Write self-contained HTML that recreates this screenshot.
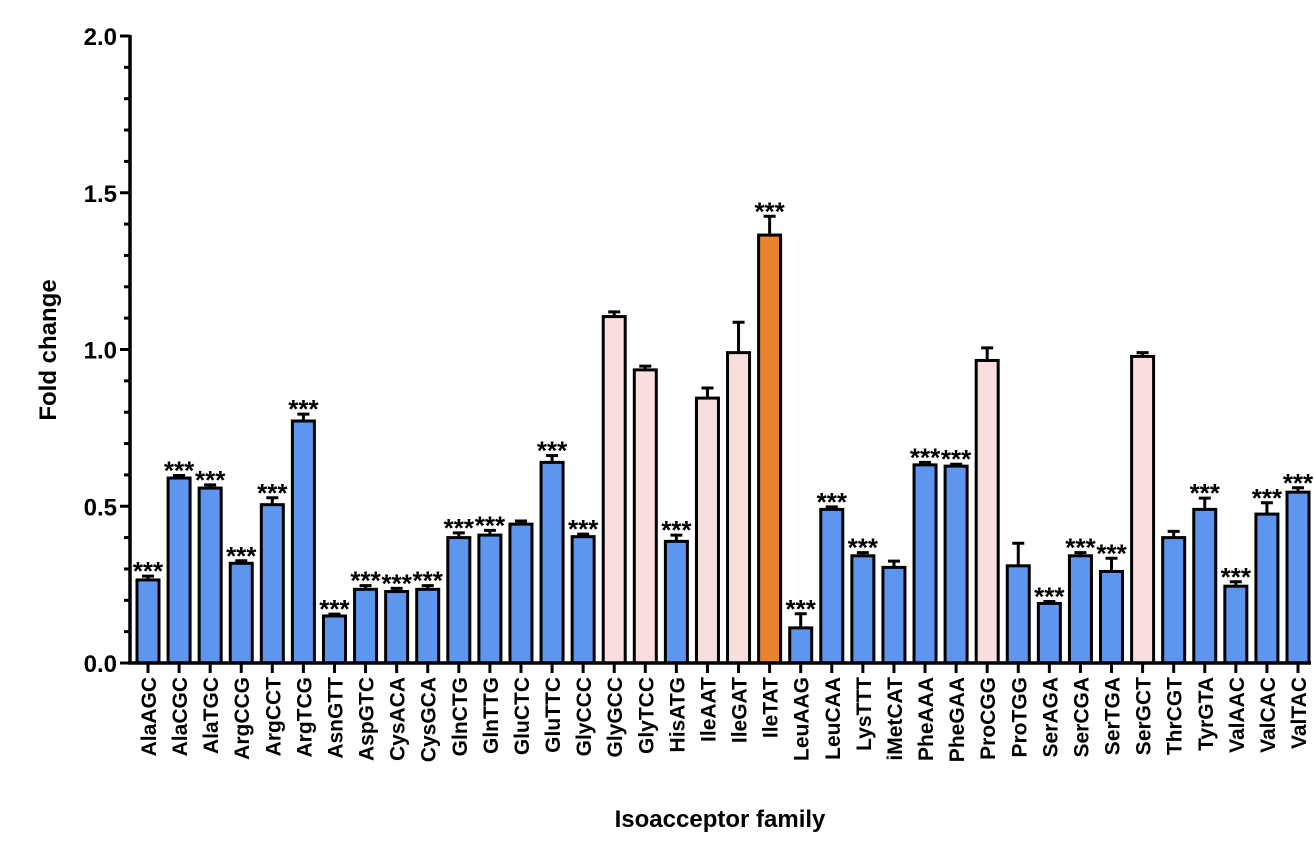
<!DOCTYPE html>
<html><head><meta charset="utf-8"><style>
html,body{margin:0;padding:0;background:#fff;}
svg{display:block;font-family:"Liberation Sans",Arial,sans-serif;font-weight:bold;}
</style></head><body>
<svg id="chart" width="1314" height="846" viewBox="0 0 1314 846" xmlns="http://www.w3.org/2000/svg"></svg>
<script>
const categories=["AlaAGC","AlaCGC","AlaTGC","ArgCCG","ArgCCT","ArgTCG","AsnGTT","AspGTC","CysACA","CysGCA","GlnCTG","GlnTTG","GluCTC","GluTTC","GlyCCC","GlyGCC","GlyTCC","HisATG","IleAAT","IleGAT","IleTAT","LeuAAG","LeuCAA","LysTTT","iMetCAT","PheAAA","PheGAA","ProCGG","ProTGG","SerAGA","SerCGA","SerTGA","SerGCT","ThrCGT","TyrGTA","ValAAC","ValCAC","ValTAC"];
const values=[0.265,0.59,0.558,0.318,0.505,0.772,0.15,0.235,0.228,0.235,0.4,0.408,0.443,0.64,0.403,1.105,0.935,0.388,0.845,0.99,1.365,0.112,0.49,0.342,0.305,0.632,0.628,0.965,0.31,0.19,0.342,0.292,0.978,0.4,0.49,0.245,0.475,0.545];
const errors=[0.012,0.008,0.01,0.008,0.022,0.022,0.006,0.012,0.01,0.012,0.015,0.015,0.01,0.022,0.008,0.015,0.012,0.02,0.032,0.097,0.06,0.045,0.008,0.01,0.02,0.008,0.006,0.04,0.072,0.006,0.01,0.042,0.012,0.02,0.036,0.014,0.036,0.014];
const groups=["b","b","b","b","b","b","b","b","b","b","b","b","b","b","b","p","p","b","p","p","o","b","b","b","b","b","b","p","b","b","b","b","p","b","b","b","b","b"];
const stars=[1,1,1,1,1,1,1,1,1,1,1,1,0,1,1,0,0,1,0,0,1,1,1,1,0,1,1,0,0,1,1,1,0,0,1,1,1,1];
const yTicks=[0,0.5,1.0,1.5,2.0];
const yTickLabels=["0.0","0.5","1.0","1.5","2.0"];
const colors={b:"#5d95ef",p:"#f9dede",o:"#e8842f"};
const svg=document.getElementById('chart');
const NS="http://www.w3.org/2000/svg";
const y0=663,yTop=36,ymax=2.0;
function yScale(v){return y0-(v/ymax)*(y0-yTop);}
const x0=148,step=(1298-148)/(categories.length-1);
function xScale(i){return x0+i*step;}
function mk(tag,attrs,parent){const e=document.createElementNS(NS,tag);for(const k in attrs)e.setAttribute(k,attrs[k]);(parent||svg).appendChild(e);return e;}
const bw=22;
categories.forEach((c,i)=>{
  const cx=xScale(i),v=values[i],top=yScale(v),et=yScale(v+errors[i]);
  const er=mk('path',{d:`M${cx} ${top} V${et} M${cx-6} ${et} H${cx+6}`,stroke:'#000','stroke-width':3,fill:'none'});
  
  
  const r=mk('rect',{x:cx-bw/2,y:top,width:bw,height:y0-top,fill:colors[groups[i]],stroke:'#000','stroke-width':3});
  
  
  if(stars[i]){
    const s=mk('text',{x:cx,y:et+4,'text-anchor':'middle','font-size':26,fill:'#000'});
    s.textContent='***';
    
    
  }
  mk('line',{x1:cx,x2:cx,y1:y0,y2:y0+10,stroke:'#000','stroke-width':3});
  const t=mk('text',{x:0,y:0,transform:`translate(${cx+8},${y0+14}) rotate(-90)`,'text-anchor':'end','font-size':21,fill:'#000'});
  t.textContent=c;
  
  
});
const ax=mk('path',{d:`M130 ${yTop-1} V${y0} H1311`,stroke:'#000','stroke-width':3.5,fill:'none'});


for(let k=0;k<=20;k++){
  const v=k*0.1,yy=yScale(v),major=k%5===0;
  mk('line',{x1:major?120:124,x2:130,y1:yy,y2:yy,stroke:'#000','stroke-width':3});
}
yTicks.forEach((v,i)=>{
  const t=mk('text',{x:117,y:yScale(v)+9,'text-anchor':'end','font-size':24,fill:'#000'});
  t.textContent=yTickLabels[i];
  
  
});
const yt=mk('text',{x:0,y:0,transform:'translate(56,350) rotate(-90)','text-anchor':'middle','font-size':24,fill:'#000'});
yt.textContent='Fold change';


const xt=mk('text',{x:720,y:827,'text-anchor':'middle','font-size':24,fill:'#000'});
xt.textContent='Isoacceptor family';


</script>
</body></html>
